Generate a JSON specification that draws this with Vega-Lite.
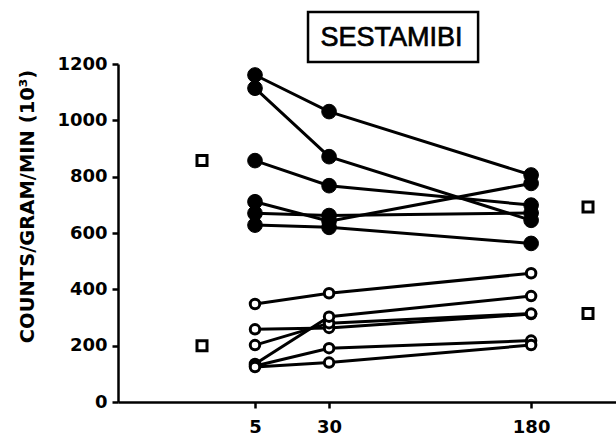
{
  "$schema": "https://vega.github.io/schema/vega-lite/v6.json",
  "autosize": {"type": "none"},
  "padding": {"left": 118, "top": 64, "right": 0, "bottom": 38},
  "width": 498,
  "height": 338,
  "background": "white",
  "config": {
    "view": {"stroke": null},
    "axis": {
      "domainColor": "black", "domainWidth": 2.5, "tickColor": "black", "tickWidth": 2.5, "tickSize": 6,
      "labelFont": "DejaVu Sans", "labelFontWeight": "bold", "labelFontSize": 18, "labelColor": "black",
      "titleFont": "DejaVu Sans", "titleFontWeight": "bold", "titleColor": "black", "grid": false
    }
  },
  "datasets": {
    "subjects": [
      {"subject": "A", "type": "filled", "time": 5, "value": 1161},
      {"subject": "A", "type": "filled", "time": 30, "value": 1031},
      {"subject": "A", "type": "filled", "time": 180, "value": 806},
      {"subject": "B", "type": "filled", "time": 5, "value": 1114},
      {"subject": "B", "type": "filled", "time": 30, "value": 871},
      {"subject": "B", "type": "filled", "time": 180, "value": 645},
      {"subject": "C", "type": "filled", "time": 5, "value": 857},
      {"subject": "C", "type": "filled", "time": 30, "value": 768},
      {"subject": "C", "type": "filled", "time": 180, "value": 699},
      {"subject": "D", "type": "filled", "time": 5, "value": 711},
      {"subject": "D", "type": "filled", "time": 30, "value": 642},
      {"subject": "D", "type": "filled", "time": 180, "value": 776},
      {"subject": "E", "type": "filled", "time": 5, "value": 670},
      {"subject": "E", "type": "filled", "time": 30, "value": 662},
      {"subject": "E", "type": "filled", "time": 180, "value": 671},
      {"subject": "F", "type": "filled", "time": 5, "value": 628},
      {"subject": "F", "type": "filled", "time": 30, "value": 620},
      {"subject": "F", "type": "filled", "time": 180, "value": 563},
      {"subject": "G", "type": "open", "time": 5, "value": 348},
      {"subject": "G", "type": "open", "time": 30, "value": 386},
      {"subject": "G", "type": "open", "time": 180, "value": 457},
      {"subject": "H", "type": "open", "time": 5, "value": 258},
      {"subject": "H", "type": "open", "time": 30, "value": 263},
      {"subject": "H", "type": "open", "time": 180, "value": 312},
      {"subject": "I", "type": "open", "time": 5, "value": 202},
      {"subject": "I", "type": "open", "time": 30, "value": 280},
      {"subject": "I", "type": "open", "time": 180, "value": 314},
      {"subject": "J", "type": "open", "time": 5, "value": 135},
      {"subject": "J", "type": "open", "time": 30, "value": 303},
      {"subject": "J", "type": "open", "time": 180, "value": 376},
      {"subject": "K", "type": "open", "time": 5, "value": 128},
      {"subject": "K", "type": "open", "time": 30, "value": 191},
      {"subject": "K", "type": "open", "time": 180, "value": 218},
      {"subject": "L", "type": "open", "time": 5, "value": 124},
      {"subject": "L", "type": "open", "time": 30, "value": 140},
      {"subject": "L", "type": "open", "time": 180, "value": 202}
    ],
    "squares": [
      {"side": "pre", "value": 857},
      {"side": "pre", "value": 200},
      {"side": "post", "value": 692},
      {"side": "post", "value": 314}
    ],
    "heading": [
      {"label": "SESTAMIBI"}
    ]
  },
  "resolve": {"scale": {"x": "independent"}, "axis": {"x": "independent"}},
  "layer": [
    {
      "data": {"name": "heading"},
      "mark": {"type": "rect", "fill": "white", "fillOpacity": 0, "stroke": "black", "strokeWidth": 2.5},
      "encoding": {
        "x": {"datum": 21.05, "type": "quantitative", "scale": {"type": "pow", "exponent": 0.56, "domain": [-20.35, 274.3], "nice": false, "zero": false}, "axis": null},
        "x2": {"datum": 130.1},
        "y": {"datum": 1384.6, "type": "quantitative", "scale": {"domain": [0, 1200], "nice": false}},
        "y2": {"datum": 1207}
      }
    },
    {
      "data": {"name": "heading"},
      "mark": {"type": "text", "font": "Liberation Sans", "fontSize": 27, "color": "black", "stroke": "black", "strokeWidth": 0.7, "align": "center", "baseline": "middle"},
      "encoding": {
        "x": {"datum": 64.4, "type": "quantitative", "scale": {"type": "pow", "exponent": 0.56, "domain": [-20.35, 274.3], "nice": false, "zero": false}, "axis": null},
        "y": {"datum": 1294, "type": "quantitative"},
        "text": {"field": "label"}
      }
    },
    {
      "encoding": {
        "x": {
          "field": "time", "type": "quantitative",
          "scale": {"type": "pow", "exponent": 0.56, "domain": [-20.35, 274.3], "nice": false, "zero": false},
          "axis": {"values": [5, 30, 180], "title": null, "labelPadding": 10}
        },
        "y": {
          "field": "value", "type": "quantitative",
          "scale": {"domain": [0, 1200], "nice": false},
          "axis": {"values": [0, 200, 400, 600, 800, 1000, 1200], "format": "d", "title": "COUNTS/GRAM/MIN (10³)", "titleFontSize": 19.5, "titlePadding": 19, "titleY": 142, "labelPadding": 5}
        }
      },
      "layer": [
        {
          "data": {"name": "subjects"},
          "mark": {"type": "line", "color": "black", "strokeWidth": 3},
          "encoding": {"detail": {"field": "subject"}}
        },
        {
          "data": {"name": "subjects"},
          "mark": {"type": "point", "shape": "circle", "stroke": "black", "opacity": 1},
          "encoding": {
            "fill": {"field": "type", "type": "nominal", "scale": {"domain": ["filled", "open"], "range": ["black", "white"]}, "legend": null},
            "size": {"field": "type", "type": "nominal", "scale": {"domain": ["filled", "open"], "range": [215, 90]}, "legend": null},
            "strokeWidth": {"field": "type", "type": "nominal", "scale": {"domain": ["filled", "open"], "range": [1, 3]}, "legend": null}
          }
        }
      ]
    },
    {
      "data": {"name": "squares"},
      "mark": {"type": "point", "shape": "square", "stroke": "black", "strokeWidth": 3, "fill": "white", "size": 100, "opacity": 1},
      "encoding": {
        "x": {"field": "side", "type": "nominal", "scale": {"type": "point", "domain": ["pre", "post"], "range": [84, 470], "padding": 0}, "axis": null},
        "y": {"field": "value", "type": "quantitative"}
      }
    }
  ]
}
